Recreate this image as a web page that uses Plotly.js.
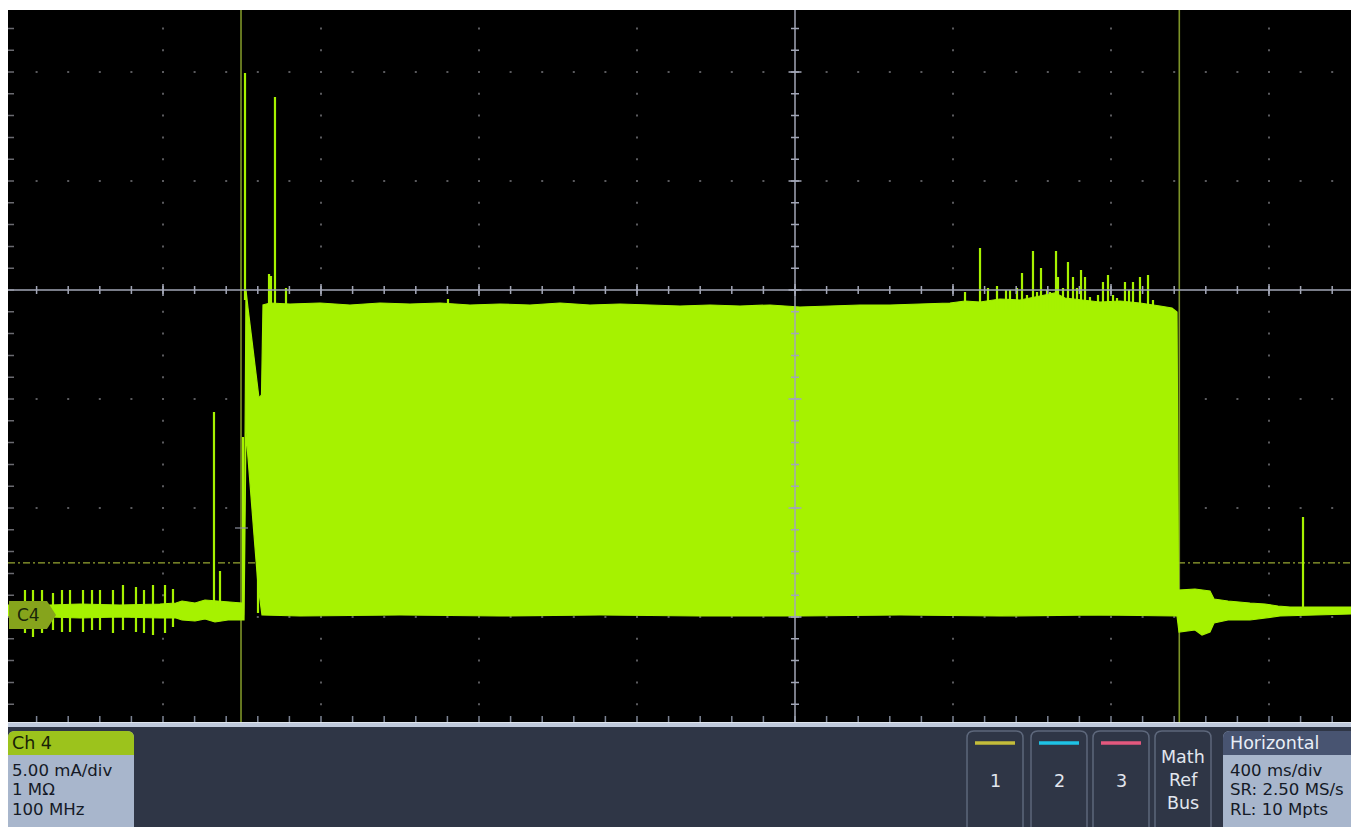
<!DOCTYPE html>
<html><head><meta charset="utf-8">
<script src="https://cdn.plot.ly/plotly-3.0.1.min.js"></script>
<style>html,body{margin:0;padding:0;background:#fff;overflow:hidden}#chart{width:1351px;height:827px}</style>
</head><body><div id="chart"></div>
<script>
// ---------------- DATA (time in s, current in mA) ----------------
// upper envelope of Ch4 trace
const tUp = [-1.9924,-1.8861,-1.8101,-1.7089,-1.6076,-1.5671,-1.5519,-1.5190,-1.4937,-1.4684,-1.4354,-1.4000,-1.3949,
  -1.3899,-1.3848,-1.3747,-1.3646,-1.3570,-1.3506,-1.3468,
  -1.3291,-1.2785,-1.2025,-1.1266,-1.0506,-0.9747,-0.8987,-0.8228,-0.7468,-0.6709,-0.5949,-0.5190,-0.4430,-0.3671,
  -0.2911,-0.2152,-0.1392,-0.0633,0.0127,0.0886,0.1646,0.2405,0.3165,0.3924,0.4304,0.4684,0.5190,0.5696,0.6203,
  0.6582,0.6835,0.7215,0.7722,0.8228,0.8734,0.9241,0.9544,0.9671,0.9709,
  1.0127,1.0506,1.0608,1.0962,1.1519,1.1899,1.2228,1.2532,1.4076];
const iUp = [0.459,0.459,0.505,0.459,0.505,0.550,0.642,0.550,0.688,0.642,0.596,0.550,0.550,
  14.908,14.083,12.477,11.147,9.954,10.092,14.220,
  14.312,14.266,14.312,14.220,14.312,14.266,14.312,14.220,14.266,14.220,14.312,14.220,14.266,14.220,
  14.174,14.220,14.174,14.220,14.128,14.174,14.220,14.220,14.266,14.312,14.404,14.358,14.495,14.450,14.633,
  14.771,14.541,14.450,14.358,14.404,14.312,14.174,14.083,13.899,1.147,
  1.193,1.101,0.734,0.642,0.550,0.505,0.413,0.367,0.367];
// lower envelope of Ch4 trace
const tLo = [-1.9924,-1.8861,-1.8101,-1.7089,-1.6076,-1.5671,-1.5519,-1.5190,-1.4937,-1.4684,-1.4354,-1.3949,
  -1.3899,-1.3797,-1.3696,-1.3595,-1.3494,
  -1.2532,-1.0000,-0.7468,-0.4937,-0.2405,0.0127,0.2658,0.5190,0.7722,0.9671,
  0.9722,1.0127,1.0304,1.0506,1.0608,1.0962,1.1519,1.1899,1.2278,1.4076];
const iLo = [-0.092,-0.092,-0.138,-0.092,-0.138,-0.138,-0.229,-0.275,-0.183,-0.321,-0.229,-0.229,
  8.394,6.193,3.670,1.376,0.000,
  -0.046,0.000,-0.046,0.000,-0.046,-0.046,0.000,-0.046,0.000,-0.046,
  -0.780,-0.688,-0.917,-0.780,-0.367,-0.229,-0.229,-0.138,-0.046,0.046];
// narrow glitches / spikes
const spikeT = [-1.9494,-1.9291,-1.9063,-1.8785,-1.8557,-1.8354,-1.8025,-1.7797,-1.7595,-1.7266,-1.7013,-1.6684,-1.6481,-1.6253,-1.5949,-1.5747,
  -1.4709,-1.4557,-1.3975,-1.3924,-1.3595,-1.3316,-1.3266,-1.3165,-1.2886,-0.8785,
  0.4304,0.4684,0.4886,0.5114,0.5342,0.5443,0.5620,0.5747,0.5873,0.6025,0.6127,0.6228,0.6380,0.6456,0.6608,0.6658,
  0.6785,0.6911,0.7038,0.7139,0.7241,0.7342,0.7468,0.7671,0.7797,0.7924,0.8051,0.8152,0.8354,0.8456,0.8557,0.8734,
  0.8937,0.9063,1.2861];
const spikeTop = [1.147,1.147,1.147,1.009,1.147,1.147,1.147,1.147,1.147,1.147,1.376,1.284,1.147,1.376,1.376,1.193,
  9.312,2.018,8.165,24.862,2.110,15.642,15.550,23.761,15.000,14.495,
  14.817,16.835,15.000,15.092,14.908,14.908,15.000,15.688,14.679,16.697,14.817,15.917,14.908,14.817,16.697,15.505,
  15.000,16.193,15.505,15.000,15.826,15.505,14.587,14.679,15.275,15.596,14.679,14.541,15.275,14.908,15.275,15.505,
  15.596,14.450,4.495];
const spikeBase = [-0.826,-1.009,-0.826,-0.688,-0.780,-0.780,-0.780,-0.688,-0.688,-0.826,-0.688,-0.780,-0.826,-0.917,-0.826,-0.550,
  0.229,0.229,0.000,14.450,0.092,13.991,13.991,13.991,13.991,13.991,
  13.991,13.991,13.991,13.991,13.991,13.991,13.991,13.991,13.991,13.991,13.991,13.991,13.991,13.991,13.991,13.991,
  13.991,13.991,13.991,13.991,13.991,13.991,13.991,13.991,13.991,13.991,13.991,13.991,13.991,13.991,13.991,13.991,
  13.991,13.991,0.229];
const cursorT = [-1.4025, 0.9729];
const triggerLevel = 2.39;
const chanInfo = ["5.00 mA/div", "1 MΩ", "100 MHz"];
const horizInfo = ["400 ms/div", "SR: 2.50 MS/s", "RL: 10 Mpts"];
const buttonLabels = ["1", "2", "3"];
const xRange = [-1.9924, 1.4076];
const yRange = [-4.908, 27.752];

// ---------------- LAYOUT HELPERS ----------------
const W = 1351, H = 827;
const L = 8, T = 10, R = 1351, B = 722;
const CX = 795, CY = 290, DX = 158, DY = 109;
const px = x => x / W, py = y => 1 - y / H;
const P = (x, y) => px(x).toFixed(5) + ',' + py(y).toFixed(5);
const LIME = '#a6f200';
const FONT = 'DejaVu Sans, Noto Sans, sans-serif';

function rr(x0, y0, x1, y1, r) {
  return 'M' + P(x0 + r, y0) + ' L' + P(x1 - r, y0) + ' Q' + P(x1, y0) + ' ' + P(x1, y0 + r) +
    ' L' + P(x1, y1 - r) + ' Q' + P(x1, y1) + ' ' + P(x1 - r, y1) + ' L' + P(x0 + r, y1) +
    ' Q' + P(x0, y1) + ' ' + P(x0, y1 - r) + ' L' + P(x0, y0 + r) + ' Q' + P(x0, y0) + ' ' + P(x0 + r, y0) + ' Z';
}
function topRound(x0, y0, x1, y1, r) {
  return 'M' + P(x0 + r, y0) + ' L' + P(x1 - r, y0) + ' Q' + P(x1, y0) + ' ' + P(x1, y0 + r) +
    ' L' + P(x1, y1) + ' L' + P(x0, y1) + ' L' + P(x0, y0 + r) + ' Q' + P(x0, y0) + ' ' + P(x0 + r, y0) + ' Z';
}
function pline(x0, y0, x1, y1, color, width, dash, layer) {
  return {type: 'line', xref: 'paper', yref: 'paper', x0: px(x0), y0: py(y0), x1: px(x1), y1: py(y1),
    line: {color: color, width: width, dash: dash || 'solid'}, layer: layer || 'above'};
}
function prect(x0, y0, x1, y1, fill) {
  return {type: 'rect', xref: 'paper', yref: 'paper', x0: px(x0), y0: py(y0), x1: px(x1), y1: py(y1),
    fillcolor: fill, line: {width: 0}, layer: 'above'};
}

const shapes = [];
const mx = DX / 5, my = DY / 5;
const yDot0 = CY - Math.floor((CY - T) / my) * my;
const xDot0 = CX - Math.floor((CX - L) / mx) * mx;
// dotted graticule
for (let k = -4; k <= 3; k++) {
  const X = CX + k * DX;
  if (k === 0 || X < L || X > R) continue;
  shapes.push(pline(X, yDot0 - 1, X, B, '#5a5a5e', 2, '2px,' + (my - 2).toFixed(2) + 'px', 'below'));
}
for (let k = -2; k <= 3; k++) {
  const Y = CY + k * DY;
  if (k === 0 || Y < T || Y > B) continue;
  shapes.push(pline(xDot0 - 1, Y, R, Y, '#5a5a5e', 2, '2px,' + (mx - 2).toFixed(2) + 'px', 'below'));
}
// trigger level (data coords)
shapes.push({type: 'line', xref: 'x', yref: 'y', x0: xRange[0], x1: xRange[1], y0: triggerLevel, y1: triggerLevel,
  line: {color: '#97a632', width: 1.2, dash: '7px,3px,2px,3px'}, layer: 'below'});
// cursors
cursorT.forEach(t => shapes.push({type: 'line', xref: 'x', yref: 'paper', x0: t, x1: t, y0: py(B), y1: py(T),
  line: {color: '#7d9428', width: 1.6}, layer: 'below'}));
// edge ticks
shapes.push(pline(11, yDot0 - 0.75, 11, B, '#6a6a70', 6, '1.5px,' + (my - 1.5).toFixed(2) + 'px'));
shapes.push(pline(xDot0 - 0.75, 719, R, 719, '#7c8494', 6, '1.5px,' + (mx - 1.5).toFixed(2) + 'px'));
// crosshair
shapes.push(pline(CX, T, CX, B, '#a2a6b6', 1.5));
shapes.push(pline(L, CY, R, CY, '#a2a6b6', 1.5));
shapes.push(pline(CX, yDot0 - 0.75, CX, B, '#a2a6b6', 8, '1.5px,' + (my - 1.5).toFixed(2) + 'px'));
shapes.push(pline(xDot0 - 0.75, CY, R, CY, '#a2a6b6', 8, '1.5px,' + (mx - 1.5).toFixed(2) + 'px'));
shapes.push(pline(CX, CY - 2 * DY - 0.75, CX, B, '#a2a6b6', 13, '1.5px,' + (DY - 1.5).toFixed(2) + 'px'));
shapes.push(pline(CX - 4 * DX - 0.75, CY, R, CY, '#a2a6b6', 12, '1.5px,' + (DX - 1.5).toFixed(2) + 'px'));
// trigger position mark
shapes.push(pline(235, 528, 248, 528, '#8a8e9c', 1.2));
// C4 ground marker
shapes.push({type: 'path', xref: 'paper', yref: 'paper', layer: 'above',
  path: 'M' + P(9, 601) + ' L' + P(47, 601) + ' L' + P(56, 615) + ' L' + P(47, 629) + ' L' + P(9, 629) + ' Z',
  fillcolor: '#86a41c', line: {width: 0}});
// separator + panel
shapes.push(prect(L, 722.5, R, 727, '#c0cadc'));
shapes.push(prect(L, 727, R, H + 2, '#2f3646'));
// Ch 4 box
shapes.push({type: 'path', xref: 'paper', yref: 'paper', path: rr(8, 731, 134, 840, 7), fillcolor: '#a8b6cc', line: {width: 0}});
shapes.push({type: 'path', xref: 'paper', yref: 'paper', path: topRound(8, 731, 134, 755, 7), fillcolor: '#9cc31c', line: {width: 0}});
// channel buttons
const btnX = [967, 1031, 1093, 1155];
const btnColors = ['#c4bd3a', '#1ec3e6', '#e4587e'];
btnX.forEach((x, i) => {
  shapes.push({type: 'path', xref: 'paper', yref: 'paper', path: rr(x, 731, x + 56, 840, 7), fillcolor: '#2f3646',
    line: {color: '#5d677b', width: 1.5}});
  if (i < 3) shapes.push(pline(x + 8, 743, x + 48, 743, btnColors[i], 3.5));
});
// Horizontal box
shapes.push({type: 'path', xref: 'paper', yref: 'paper', path: rr(1223, 731, 1365, 840, 7), fillcolor: '#a8b6cc', line: {width: 0}});
shapes.push({type: 'path', xref: 'paper', yref: 'paper', path: topRound(1223, 731, 1365, 755, 7), fillcolor: '#485471', line: {width: 0}});

// annotations
const ann = [];
function txt(x, y, s, color, size, anchor) {
  ann.push({xref: 'paper', yref: 'paper', x: px(x), y: py(y), text: s, showarrow: false, borderpad: 0,
    xanchor: anchor || 'left', yanchor: 'middle', font: {family: FONT, size: size, color: color}});
}
txt(16, 615, 'C4', '#18260a', 17);
txt(11, 743, 'Ch 4', '#182206', 17.5);
chanInfo.forEach((s, i) => txt(11, 770 + i * 19.5, s, '#151a26', 16.6));
buttonLabels.forEach((s, i) => txt(btnX[i] + 28, 781, s, '#e2e6ee', 17.5, 'center'));
['Math', 'Ref', 'Bus'].forEach((s, i) => txt(btnX[3] + 28, 757 + i * 23, s, '#e2e6ee', 17.5, 'center'));
txt(1229, 743, 'Horizontal', '#e8eef7', 17.5);
horizInfo.forEach((s, i) => txt(1229, 770 + i * 19.5, s, '#151a26', 16.6));

// ---------------- TRACES ----------------
const polyX = tUp.concat(tLo.slice().reverse());
const polyY = iUp.concat(iLo.slice().reverse());
const sx = [], sy = [];
spikeT.forEach((t, i) => { sx.push(t, t, null); sy.push(spikeBase[i], spikeTop[i], null); });

const traces = [
  {x: polyX, y: polyY, type: 'scatter', mode: 'lines', fill: 'toself', fillcolor: LIME,
    line: {color: LIME, width: 1.2}, hoverinfo: 'skip', showlegend: false},
  {x: sx, y: sy, type: 'scatter', mode: 'lines', line: {color: LIME, width: 2.2},
    hoverinfo: 'skip', showlegend: false, connectgaps: false}
];

const layout = {
  width: W, height: H, margin: {l: 0, r: 0, t: 0, b: 0, pad: 0},
  paper_bgcolor: '#ffffff', plot_bgcolor: '#000000', showlegend: false,
  xaxis: {domain: [L / W, 1], range: xRange, showgrid: false, zeroline: false, showticklabels: false,
    ticks: '', showline: false, fixedrange: true},
  yaxis: {domain: [1 - B / H, 1 - T / H], range: yRange, showgrid: false, zeroline: false, showticklabels: false,
    ticks: '', showline: false, fixedrange: true},
  shapes: shapes, annotations: ann
};
Plotly.newPlot('chart', traces, layout, {staticPlot: true, displayModeBar: false});
</script></body></html>
